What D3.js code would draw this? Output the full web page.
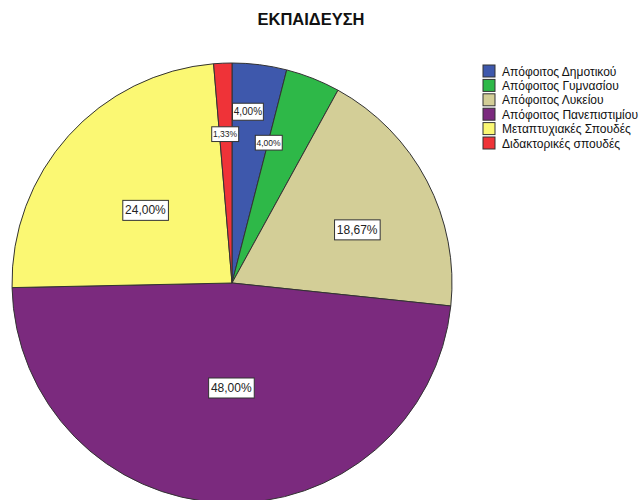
<!DOCTYPE html>
<html>
<head>
<meta charset="utf-8">
<script src="https://cdn.jsdelivr.net/npm/d3@7"></script>
<style>
  body { margin: 0; background: #fff; }
  svg { display: block; font-family: "Liberation Sans", Arial, sans-serif; }
</style>
</head>
<body>
<div id="chart"></div>
<script>
// data
const title = 'ΕΚΠΑΙΔΕΥΣΗ'
const categories = ['Απόφοιτος Δημοτικού', 'Απόφοιτος Γυμνασίου', 'Απόφοιτος Λυκείου',
                    'Απόφοιτος Πανεπιστιμίου', 'Μεταπτυχιακές Σπουδές', 'Διδακτορικές σπουδές']
const counts = [3, 3, 14, 36, 18, 1]
const colors = ['#3e58ac', '#2eb848', '#d3ce97', '#7b2a7e', '#fbf873', '#ef3338']

// label layout (distance from centre, angle shift in degrees, font size)
const labelRadius = [172, 145, 136, 105, 113, 149]
const labelShift = [-1.9, -7, 4.6, -2, -2, -0.3]
const labelSize = [10, 8.5, 12, 12, 12, 8.5]

const width = 641, height = 500
const cx = 232, cy = 283, r = 220

const svg = d3.select('#chart').append('svg')
    .attr('width', width)
    .attr('height', height)

svg.append('rect').attr('width', width).attr('height', height).attr('fill', '#fff')

svg.append('text')
    .attr('x', 311)
    .attr('y', 25)
    .attr('text-anchor', 'middle')
    .attr('font-size', '16.5px')
    .attr('font-weight', 'bold')
    .attr('fill', '#111')
    .text(title)

const total = d3.sum(counts)
const pie = d3.pie().sort(null).value(d => d)
const arcs = pie(counts)
const arc = d3.arc().innerRadius(0).outerRadius(r)

const g = svg.append('g').attr('transform', `translate(${cx},${cy})`)

g.selectAll('path')
    .data(arcs)
    .join('path')
    .attr('d', arc)
    .attr('fill', (d, i) => colors[i])
    .attr('stroke', '#333')
    .attr('stroke-width', 1)
    .attr('stroke-linejoin', 'round')

const fmt = v => d3.format('.2f')(v).replace('.', ',') + '%'

const labels = g.selectAll('.lbl')
    .data(arcs)
    .join('g')
    .attr('class', 'lbl')
    .attr('transform', (d, i) => {
        const a = (d.startAngle + d.endAngle) / 2 + labelShift[i] * Math.PI / 180
        return `translate(${labelRadius[i] * Math.sin(a)},${-labelRadius[i] * Math.cos(a)})`
    })

labels.each(function(d, i) {
    const lg = d3.select(this)
    const t = lg.append('text')
        .attr('text-anchor', 'middle')
        .attr('dominant-baseline', 'central')
        .attr('font-size', labelSize[i] + 'px')
        .attr('fill', '#222')
        .text(fmt(d.data / total * 100))
    const bb = t.node().getBBox()
    const px = labelSize[i] > 10 ? 2.3 : 1.2
    const h = labelSize[i] * 1.5 + 2
    lg.insert('rect', 'text')
        .attr('x', bb.x - px)
        .attr('y', -h / 2)
        .attr('width', bb.width + px * 2)
        .attr('height', h)
        .attr('fill', '#fff')
        .attr('stroke', '#333')
        .attr('stroke-width', 1)
})

// legend
const legend = svg.append('g').attr('transform', 'translate(483,65)')
const rowH = 14.4

const items = legend.selectAll('g')
    .data(categories)
    .join('g')
    .attr('transform', (d, i) => `translate(0,${i * rowH})`)

items.append('rect')
    .attr('width', 12)
    .attr('height', 12)
    .attr('fill', (d, i) => colors[i])
    .attr('stroke', '#333')
    .attr('stroke-width', 1)

items.append('text')
    .attr('x', 19)
    .attr('y', 10.5)
    .attr('font-size', '12px')
    .attr('fill', '#111')
    .text(d => d)
</script>
</body>
</html>
